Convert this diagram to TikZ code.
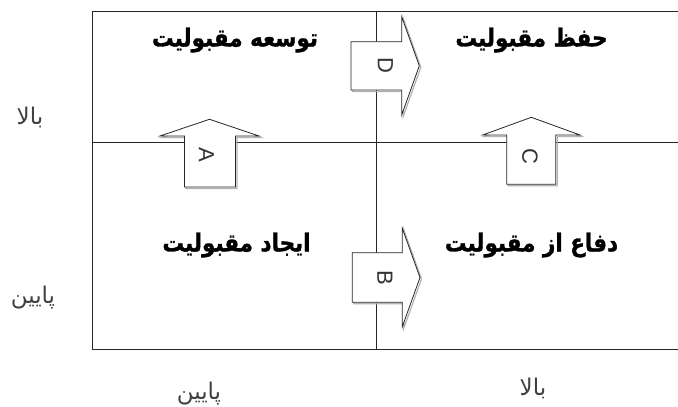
\documentclass[tikz,border=0pt]{standalone}
\usepackage{fontspec}
\setmainfont{Liberation Sans}
\newfontfamily\fa[Script=Arabic]{DejaVu Sans}
\newfontfamily\fabold[Script=Arabic,FakeBold=1.2]{DejaVu Sans Bold}
\TeXXeTstate=1
\begin{document}
\begin{tikzpicture}[x=1pt,y=-1pt,
  gridline/.style={line width=0.9pt, draw=black!85},
  arr/.style={draw=black!85, line width=0.8pt, fill=white, line join=miter},
  arrshadow/.style={draw=black!30, line width=1.2pt, line join=miter},
  lbl/.style={font=\fabold\fontsize{21.5}{24}\selectfont, inner sep=0pt, yscale=1.15, transform shape},
  axislbl/.style={font=\fa\fontsize{23}{26}\selectfont, text=black!75, inner sep=0pt},
  ltr/.style={font=\fontsize{22}{24}\selectfont, rotate=-90, inner sep=0pt, text=black!80}
]
\useasboundingbox (0,0) rectangle (678,407);
\clip (0,0) rectangle (678,407);
% grid
\coordinate (tl) at (92.7,11.7);
\coordinate (bl) at (92.7,349);
\coordinate (tr) at (680,11.7);
\coordinate (br) at (680,349);
\coordinate (mt) at (376.7,11.7);
\coordinate (mb) at (376.7,349);
\coordinate (ml) at (92.7,142.7);
\coordinate (mr) at (680,142.7);
\draw[gridline] (tr) -- (tl) -- (bl) -- (br);
\draw[gridline] (mt) -- (mb);
\draw[gridline] (ml) -- (mr);
% arrow A (up)
\draw[arrshadow,shift={(1.5,1.5)}] (184.5,187) -- (184.5,136) -- (160,136) -- (209.5,119.3) -- (259,136) -- (235.5,136) -- (235.5,187) -- cycle;
\draw[arr] (184.5,187) -- (184.5,136) -- (160,136) -- (209.5,119.3) -- (259,136) -- (235.5,136) -- (235.5,187) -- cycle;
\node[ltr] (A) at (206.5,155) {A};
% arrow C (up)
\draw[arrshadow,shift={(1.5,1.5)}] (506.7,184.3) -- (506.7,135) -- (482.7,135) -- (531.3,117.3) -- (580,135) -- (555.7,135) -- (555.7,184.3) -- cycle;
\draw[arr] (506.7,184.3) -- (506.7,135) -- (482.7,135) -- (531.3,117.3) -- (580,135) -- (555.7,135) -- (555.7,184.3) -- cycle;
\node[ltr] (C) at (530,156.5) {C};
% arrow D (right)
\draw[arrshadow,shift={(1.5,1.5)}] (351,41.7) -- (401.7,41.7) -- (401.7,16.7) -- (419.3,65.8) -- (401.7,115) -- (401.7,90) -- (351,90) -- cycle;
\draw[arr] (351,41.7) -- (401.7,41.7) -- (401.7,16.7) -- (419.3,65.8) -- (401.7,115) -- (401.7,90) -- (351,90) -- cycle;
\node[ltr] (D) at (385.5,65.5) {D};
% arrow B (right)
\draw[arrshadow,shift={(1.5,1.5)}] (352.3,252.7) -- (402.3,252.7) -- (402.3,228.3) -- (420,277.5) -- (402.3,326.7) -- (402.3,302.3) -- (352.3,302.3) -- cycle;
\draw[arr] (352.3,252.7) -- (402.3,252.7) -- (402.3,228.3) -- (420,277.5) -- (402.3,326.7) -- (402.3,302.3) -- (352.3,302.3) -- cycle;
\node[ltr] (B) at (385,277.5) {B};
% quadrant labels
\node[lbl] (q1) at (235,40) {\beginR توسعه مقبولیت\endR};
\node[lbl] (q2) at (531.5,40) {\beginR حفظ مقبولیت\endR};
\node[lbl] (q3) at (236.5,245) {\beginR ایجاد مقبولیت\endR};
\node[lbl] (q4) at (531.5,245) {\beginR دفاع از مقبولیت\endR};
% axis labels
\node[axislbl] (yhigh) at (30,117) {\beginR بالا\endR};
\node[axislbl] (ylow) at (33,298) {\beginR پایین\endR};
\node[axislbl] (xhigh) at (533,388) {\beginR بالا\endR};
\node[axislbl,anchor=base] (xlow) at (199,399) {\beginR پایین\endR};
\end{tikzpicture}
\end{document}
